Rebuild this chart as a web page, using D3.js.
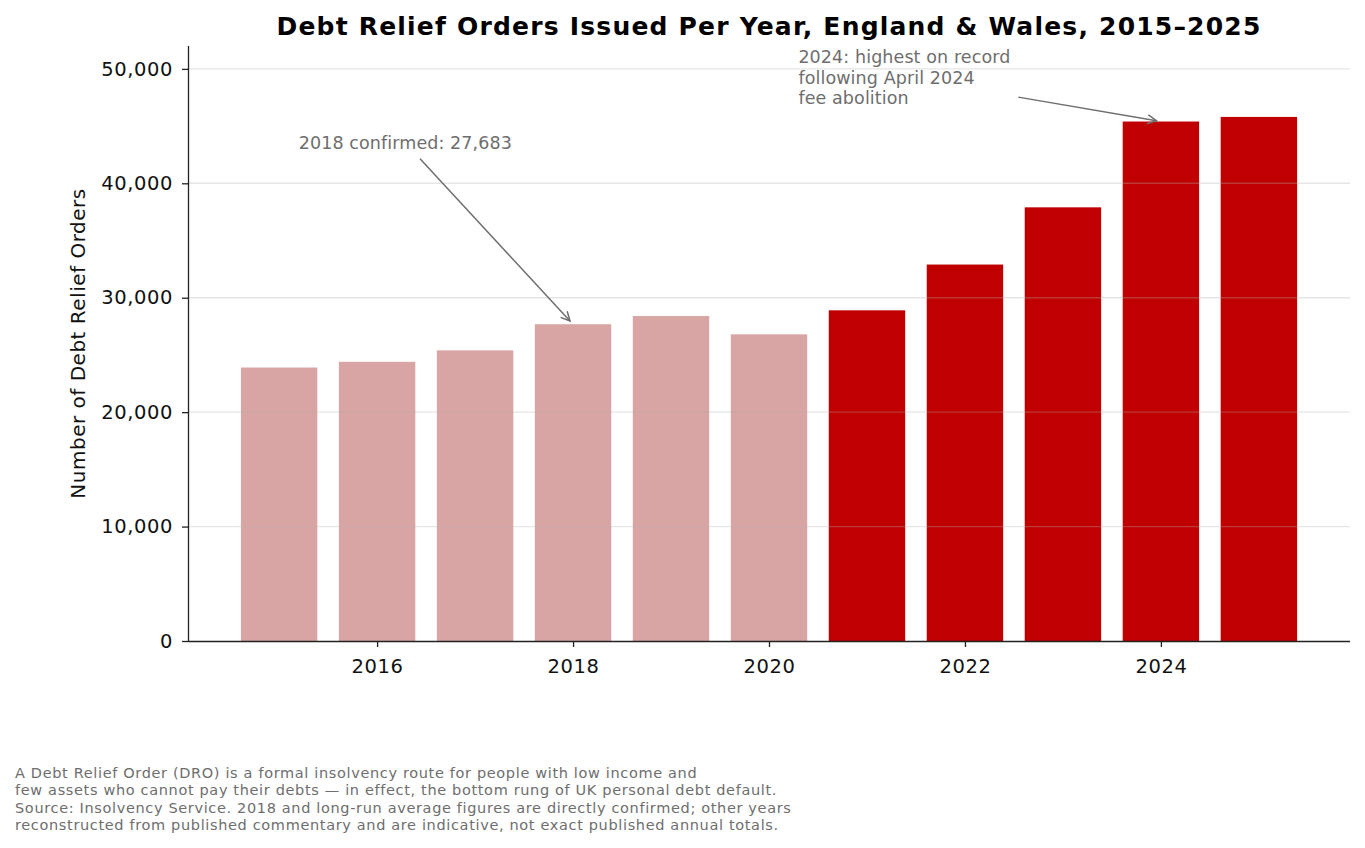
<!DOCTYPE html>
<html>
<head>
<meta charset="utf-8">
<script src="https://cdn.jsdelivr.net/npm/d3@7"></script>
<style>
  body { margin: 0; background: #fff; }
  svg { font-family: "DejaVu Sans", sans-serif; display: block; }
</style>
</head>
<body>
<div id="chart"></div>
<script>
// data
const years = [2015, 2016, 2017, 2018, 2019, 2020, 2021, 2022, 2023, 2024, 2025];
const dros = [23900, 24400, 25400, 27683, 28400, 26800, 28900, 32900, 37900, 45400, 45800];
const yTicks = [0, 10000, 20000, 30000, 40000, 50000];
const xTicks = [2016, 2018, 2020, 2022, 2024];
const footLines = [
  'A Debt Relief Order (DRO) is a formal insolvency route for people with low income and',
  'few assets who cannot pay their debts \u2014 in effect, the bottom rung of UK personal debt default.',
  'Source: Insolvency Service. 2018 and long-run average figures are directly confirmed; other years',
  'reconstructed from published commentary and are indicative, not exact published annual totals.'
];
const note2018 = ['2018 confirmed: 27,683'];
const note2024 = ['2024: highest on record', 'following April 2024', 'fee abolition'];

const W = 1365, H = 848;
const margin = {top: 46, right: 15, bottom: 207, left: 188};
const width = W - margin.left - margin.right;
const height = H - margin.top - margin.bottom;

const svg = d3.select('#chart')
  .append('svg')
  .attr('width', W)
  .attr('height', H);

const defs = svg.append('defs');
defs.append('marker')
  .attr('id', 'head')
  .attr('viewBox', '-12 -7 14 14')
  .attr('markerUnits', 'userSpaceOnUse')
  .attr('markerWidth', 14)
  .attr('markerHeight', 14)
  .attr('orient', 'auto')
  .append('path')
  .attr('d', 'M-9,-4.5 L0,0 L-9,4.5')
  .attr('fill', 'none')
  .attr('stroke', '#6e6e6e')
  .attr('stroke-width', 1.5);

const g = svg.append('g')
  .attr('transform', `translate(${margin.left}, ${margin.top})`);

const x = d3.scaleLinear()
  .domain([2014.07, 2025.93])
  .range([0, width]);
const y = d3.scaleLinear()
  .domain([0, 52000])
  .range([height, 0]);

const barW = x(2015.78) - x(2015);

// bars
g.selectAll('.bar')
  .data(years)
  .join('rect')
  .attr('class', 'bar')
  .attr('x', d => x(d) - barW / 2)
  .attr('width', barW)
  .attr('y', (d, i) => y(dros[i]))
  .attr('height', (d, i) => y(0) - y(dros[i]))
  .attr('fill', d => d >= 2021 ? '#c00000' : '#d9a4a4');

// grid drawn over the bars, faint
g.append('g')
  .selectAll('line')
  .data(yTicks.filter(d => d > 0))
  .join('line')
  .attr('x1', 0)
  .attr('x2', width)
  .attr('y1', d => y(d))
  .attr('y2', d => y(d))
  .attr('stroke', '#b0b0b0')
  .attr('stroke-opacity', 0.32)
  .attr('stroke-width', 1.4);

// axes
const xAxis = g.append('g')
  .attr('transform', `translate(0, ${height})`)
  .call(d3.axisBottom(x).tickValues(xTicks).tickFormat(d3.format('d')).tickSize(6).tickPadding(7))
  .call(a => a.select('.domain').attr('d', `M0,0.5H${width}`));
const yAxis = g.append('g')
  .call(d3.axisLeft(y).tickValues(yTicks).tickFormat(d3.format(',')).tickSize(6).tickPadding(9))
  .call(a => a.select('.domain').attr('d', `M0.5,0V${height}`));
[xAxis, yAxis].forEach(a => {
  a.selectAll('.domain').attr('stroke', '#222').attr('stroke-width', 1.3);
  a.selectAll('.tick line').attr('stroke', '#222').attr('stroke-width', 1.3);
  a.selectAll('text').attr('fill', '#111')
    .style('font-size', '19.5px')
    .style('letter-spacing', '0.6px')
    .style('font-family', '"DejaVu Sans"');
});
xAxis.selectAll('text').attr('dy', '0.95em');

// title + axis label
svg.append('text')
  .attr('x', margin.left + width / 2)
  .attr('y', 35)
  .attr('text-anchor', 'middle')
  .style('font-size', '25px')
  .style('letter-spacing', '1.2px')
  .style('font-weight', 'bold')
  .text('Debt Relief Orders Issued Per Year, England & Wales, 2015\u20132025');

svg.append('text')
  .attr('transform', `translate(85, ${margin.top + height / 2}) rotate(-90)`)
  .attr('text-anchor', 'middle')
  .style('font-size', '20px')
  .style('letter-spacing', '0.5px')
  .attr('fill', '#111')
  .text('Number of Debt Relief Orders');

// annotations: text block + arrow from its box centre to the bar top
const annotate = (lines, tx, ty, px, py) => {
  const t = g.append('text')
    .attr('fill', '#6e6e6e')
    .style('font-size', '17.5px')
    .style('letter-spacing', '0.1px');
  const lh = 20.7;
  lines.forEach((l, i) => {
    t.append('tspan')
      .attr('x', x(tx))
      .attr('y', y(ty) - (lines.length - 1 - i) * lh)
      .text(l);
  });
  const b = t.node().getBBox();
  const cx = b.x + b.width / 2, cy = b.y + b.height / 2;
  const ex = x(px), ey = y(py);
  const dx = ex - cx, dy = ey - cy;
  const len = Math.hypot(dx, dy);
  const ux = dx / len, uy = dy / len;
  const tEdge = Math.min(Math.abs(dx) > 0 ? (b.width / 2) / Math.abs(ux) : Infinity,
                         Math.abs(dy) > 0 ? (b.height / 2) / Math.abs(uy) : Infinity) + 8;
  g.append('line')
    .attr('x1', cx + ux * tEdge)
    .attr('y1', cy + uy * tEdge)
    .attr('x2', ex - ux * 4.5)
    .attr('y2', ey - uy * 4.5)
    .attr('stroke', '#6e6e6e')
    .attr('stroke-width', 1.5)
    .attr('marker-end', 'url(#head)');
};
annotate(note2018, 2015.2, 43000, 2018, dros[years.indexOf(2018)]);
annotate(note2024, 2020.3, 46900, 2024, dros[years.indexOf(2024)]);

// footnote
const foot = svg.append('text')
  .attr('fill', '#6e6e6e')
  .style('font-size', '14.5px')
  .style('letter-spacing', '0.65px');
footLines.forEach((l, i) => {
  foot.append('tspan')
    .attr('x', 15)
    .attr('y', 777.5 + i * 17.5)
    .text(l);
});
</script>
</body>
</html>
